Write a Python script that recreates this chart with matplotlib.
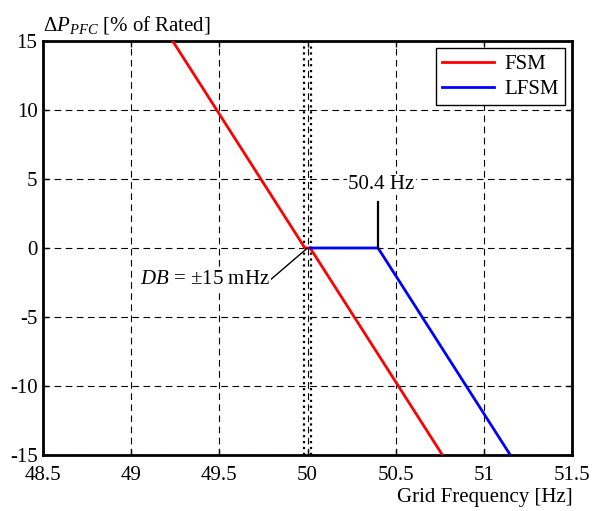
import matplotlib
matplotlib.use("Agg")
import matplotlib.pyplot as plt

# --- Data ---
DB = 0.015
fsm_f = [49.235, 50 - DB, 50 + DB, 50.765]
fsm_p = [15, 0, 0, -15]
lfsm_f = [50 + DB, 50.4, 51.15]
lfsm_p = [0, 0, -15]
x_ticks = [48.5, 49, 49.5, 50, 50.5, 51, 51.5]
x_labels = ["48.5", "49", "49.5", "50", "50.5", "51", "51.5"]
y_ticks = [-15, -10, -5, 0, 5, 10, 15]

plt.rcParams["font.family"] = ["Liberation Serif", "DejaVu Serif"]
plt.rcParams["mathtext.fontset"] = "custom"
plt.rcParams["mathtext.rm"] = "Liberation Serif"
plt.rcParams["mathtext.it"] = "Liberation Serif:italic"
plt.rcParams["font.size"] = 15
plt.rcParams["axes.unicode_minus"] = False

fig = plt.figure(figsize=(5.98, 5.11), dpi=100)
ax = fig.add_axes([0.072, 0.1096, 0.8845, 0.8102])

ax.plot(fsm_f, fsm_p, color="red", lw=2, label="FSM", zorder=3)
ax.plot(lfsm_f, lfsm_p, color="blue", lw=2, label="LFSM", zorder=3)

# deadband markers (drawn slightly wider than DB so they read apart)
for f in (50 - 0.02, 50 + 0.02):
    ax.axvline(f, color="black", ls=":", lw=1.6, zorder=2)

ax.set_xlim(48.5, 51.5)
ax.set_ylim(-15, 15)
ax.set_xticks(x_ticks)
ax.set_xticklabels(x_labels)
ax.set_yticks(y_ticks)
ax.grid(True, color="black", ls=(0, (6, 4)), lw=0.8)
ax.tick_params(direction="in", length=4, width=1, top=True, right=True)
ax.tick_params(axis="x", pad=8)
ax.tick_params(axis="y", pad=4)
for s in ax.spines.values():
    s.set_linewidth(2)

# annotations
ax.plot([50.4, 50.4], [0, 3.3], color="black", lw=1.6, zorder=4)
ax.text(50.42, 4.6, "50.4 Hz", ha="center", va="center", zorder=5,
        bbox=dict(facecolor="white", edgecolor="none", pad=1))
ax.plot([49.79, 50.0], [-2.3, 0], color="black", lw=1, zorder=4)
ax.text(49.785, -2.3, "$DB$ = ±15 mHz", ha="right", va="center", zorder=5,
        bbox=dict(facecolor="white", edgecolor="none", pad=1))

leg = ax.legend(loc="upper right", fancybox=False, framealpha=1,
                edgecolor="black", borderaxespad=0.35, handlelength=2.45,
                handletextpad=0.5, fontsize=15, borderpad=0.3,
                labelspacing=0.25)
leg.get_frame().set_linewidth(1)

fig.text(43 / 598, 1 - 30 / 511, r"$\Delta P_{PFC}$ [% of Rated]",
         ha="left", va="baseline")
fig.text(573 / 598, 1 - 502 / 511, "Grid Frequency [Hz]",
         ha="right", va="baseline")

fig.savefig("out.png", dpi=100)
